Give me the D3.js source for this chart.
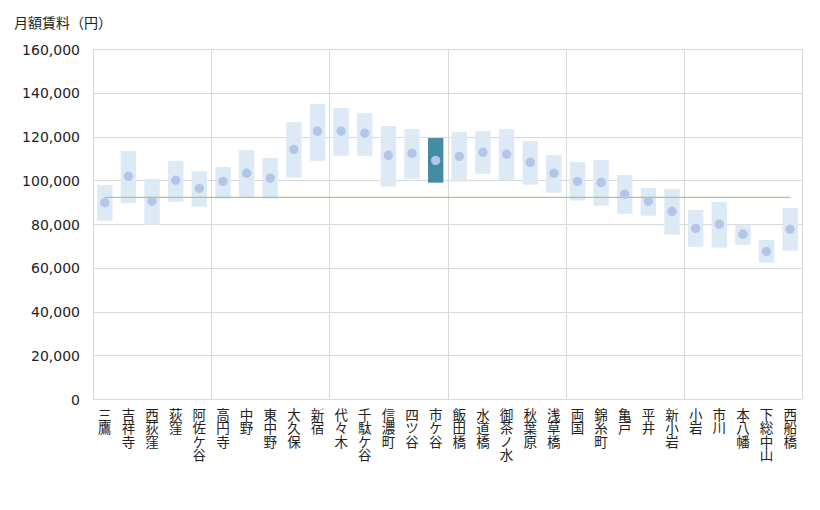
<!DOCTYPE html>
<html>
<head>
<meta charset="utf-8">
<script src="https://cdn.jsdelivr.net/npm/d3@7"></script>
<style>
  body { margin: 0; background: #fff; }
  svg { display: block; }
</style>
</head>
<body>
<svg id="chart" width="820" height="510"></svg>
<script>
const stations = ["三鷹","吉祥寺","西荻窪","荻窪","阿佐ケ谷","高円寺","中野","東中野","大久保","新宿",
  "代々木","千駄ケ谷","信濃町","四ツ谷","市ケ谷","飯田橋","水道橋","御茶ノ水","秋葉原","浅草橋",
  "両国","錦糸町","亀戸","平井","新小岩","小岩","市川","本八幡","下総中山","西船橋"];
const highValues = [97800,113400,100600,108800,104200,106000,113800,110200,126600,134900,
  133000,130700,124800,123400,119300,122000,122500,123400,117900,111500,
  108300,109300,102400,96500,96000,86400,90100,79700,72700,87300];
const lowValues = [81400,89600,79800,90100,87900,91600,92300,91600,101200,108900,
  111200,111200,97100,100700,98900,99400,103000,100000,98000,94300,
  90700,88400,84700,83800,75100,69600,69200,70500,62300,67800];
const avgValues = [89700,101800,90400,100000,96300,99500,103200,100900,114100,122400,
  122400,121500,111400,112300,109100,110900,112800,111900,108200,103200,
  99500,99000,93600,90400,85800,78000,79900,75300,67500,77600];
const overallAverage = [92200];
const highlighted = ["市ケ谷"];
const yTicks = [0,20000,40000,60000,80000,100000,120000,140000,160000];
const titleText = "月額賃料（円）";

const svg = d3.select("#chart");
const mLeft = 93, mRight = 802, mTop = 49, mBottom = 399;

const x = d3.scaleBand().domain(stations).range([mLeft, mRight]).paddingInner(0.35).paddingOuter(0.175);
const xOuter = d3.scaleBand().domain(stations).range([mLeft, mRight]);
const y = d3.scaleLinear().domain([0, 160000]).range([mBottom, mTop]);

// horizontal gridlines
svg.append("g").selectAll("line").data(yTicks).join("line")
  .attr("x1", mLeft).attr("x2", mRight)
  .attr("y1", d => Math.round(y(d)) + 0.5).attr("y2", d => Math.round(y(d)) + 0.5)
  .attr("stroke", "#d9d9d9").attr("stroke-width", 1);

// vertical gridlines every 5 categories
const vIdx = d3.range(0, stations.length + 1, 5);
svg.append("g").selectAll("line").data(vIdx).join("line")
  .attr("x1", i => Math.round(mLeft + i * xOuter.step()) + 0.5)
  .attr("x2", i => Math.round(mLeft + i * xOuter.step()) + 0.5)
  .attr("y1", mTop).attr("y2", mBottom)
  .attr("stroke", "#d9d9d9").attr("stroke-width", 1);

// y axis labels
const yAxis = d3.axisLeft(y).tickValues(yTicks).tickSize(0).tickPadding(0)
  .tickFormat(d3.format(","));
const gy = svg.append("g").attr("transform", `translate(${mLeft - 13},0)`).call(yAxis);
gy.select(".domain").remove();
gy.selectAll("text").attr("font-family", "DejaVu Sans, sans-serif").attr("font-size", 14)
  .attr("fill", "#222").attr("dy", "0.36em");

// range bars
svg.append("g").selectAll("rect").data(stations).join("rect")
  .attr("x", d => x(d)).attr("width", x.bandwidth())
  .attr("y", (d, i) => y(highValues[i]))
  .attr("height", (d, i) => y(lowValues[i]) - y(highValues[i]))
  .attr("fill", d => highlighted.includes(d) ? "#468ba5" : "#dde9f5");

// average line
svg.append("line")
  .attr("x1", xOuter(stations[0]) + xOuter.bandwidth() / 2)
  .attr("x2", xOuter(stations[stations.length - 1]) + xOuter.bandwidth() / 2)
  .attr("y1", y(overallAverage[0])).attr("y2", y(overallAverage[0]))
  .attr("stroke", "#92c35a").attr("stroke-width", 1);

// dots
svg.append("g").selectAll("circle").data(stations).join("circle")
  .attr("cx", d => x(d) + x.bandwidth() / 2)
  .attr("cy", (d, i) => y(avgValues[i]))
  .attr("r", 4.7)
  .attr("fill", "#b4c6e7");

// x labels (vertical)
svg.append("g").selectAll("text").data(stations).join("text")
  .attr("x", d => xOuter(d) + xOuter.bandwidth() / 2)
  .attr("y", 408)
  .attr("font-family", "Noto Sans CJK JP, sans-serif")
  .attr("font-size", 13.5)
  .attr("fill", "#222")
  .style("writing-mode", "vertical-rl")
  .style("text-orientation", "upright")
  .text(d => d);

// title
svg.append("text").attr("x", 14).attr("y", 28)
  .attr("font-family", "Noto Sans CJK JP, sans-serif")
  .attr("font-size", 14).attr("fill", "#222")
  .text(titleText);
</script>
</body>
</html>
